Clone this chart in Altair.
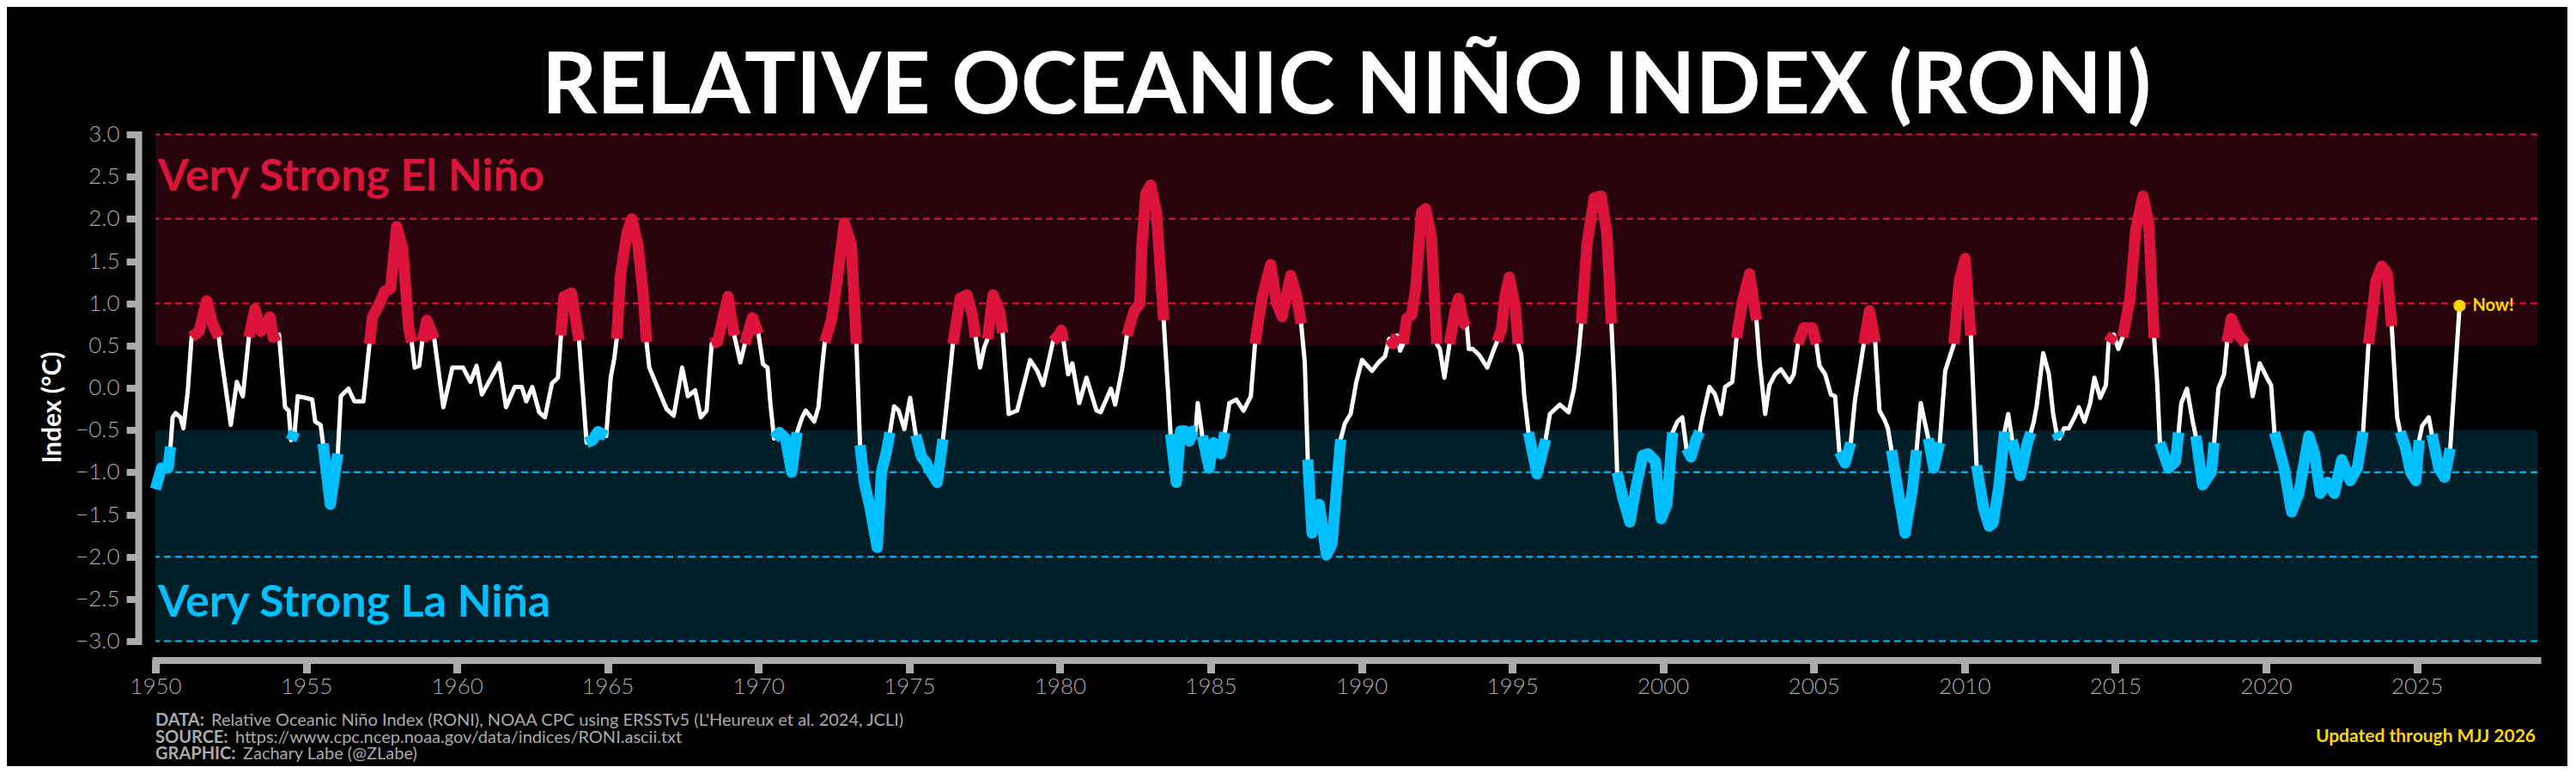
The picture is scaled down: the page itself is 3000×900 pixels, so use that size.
import altair as alt
import pandas as pd

# ---- RONI values (decimal year, index value) ----
D1950 = [(1950.00,-1.20),(1950.20,-0.95),(1950.42,-0.95),(1950.50,-0.70),(1950.57,-0.35),(1950.67,-0.30),
         (1950.83,-0.35),(1950.93,-0.48),(1951.07,-0.05),(1951.20,0.60),(1951.45,0.67),(1951.70,1.03),
         (1951.90,0.75),(1952.10,0.60),(1952.20,0.33),(1952.50,-0.44),(1952.70,0.07),(1952.90,-0.10),
         (1953.10,0.60),(1953.30,0.93),(1953.50,0.67),(1953.80,0.84),(1953.90,0.60),(1954.10,0.63),
         (1954.30,-0.23),(1954.42,-0.27),(1954.50,-0.62),(1954.62,-0.52),(1954.72,-0.10),(1955.00,-0.12),
         (1955.20,-0.14),(1955.30,-0.40),(1955.48,-0.44),(1955.56,-0.66),(1955.80,-1.38),(1956.05,-0.78),
         (1956.15,-0.10),(1956.40,-0.01),(1956.60,-0.16),(1956.90,-0.16),(1957.10,0.52),(1957.20,0.84),
         (1957.40,0.97),(1957.60,1.14),(1957.80,1.18),(1958.00,1.91),(1958.20,1.65),(1958.40,0.71),
         (1958.50,0.54),(1958.60,0.24),(1958.75,0.26),(1958.85,0.55),(1959.00,0.80),(1959.25,0.58),
         (1959.55,-0.23),(1959.85,0.24)]
D1960 = [(1960.20,0.24),(1960.45,0.07),(1960.65,0.26),(1960.83,-0.08),(1961.06,0.07),(1961.40,0.29),
         (1961.63,-0.23),(1961.92,0.01),(1962.15,0.01),(1962.30,-0.16),(1962.50,0.01),(1962.73,-0.29),
         (1962.92,-0.35),(1963.15,0.05),(1963.35,0.12),(1963.45,0.62),(1963.55,1.08),(1963.80,1.12),
         (1964.05,0.56),(1964.30,-0.65),(1964.50,-0.62),(1964.68,-0.52),(1964.95,-0.57),(1965.10,0.12),
         (1965.22,0.35),(1965.30,0.58),(1965.43,1.35),(1965.65,1.85),(1965.80,2.00),(1966.00,1.70),
         (1966.19,1.06),(1966.29,0.54),(1966.38,0.24),(1966.67,-0.01),(1966.95,-0.25),(1967.19,-0.33),
         (1967.47,0.24),(1967.66,-0.10),(1967.90,-0.03),(1968.09,-0.35),(1968.28,-0.27),(1968.45,0.52),
         (1968.65,0.55),(1968.99,1.08),(1969.20,0.62),(1969.40,0.30),(1969.55,0.52),(1969.80,0.83),
         (1970.00,0.64)]
D1970 = [(1970.15,0.28),(1970.30,0.24),(1970.40,-0.20),(1970.52,-0.60),(1970.70,-0.53),(1970.90,-0.60),
         (1971.10,-1.00),(1971.28,-0.53),(1971.45,-0.35),(1971.57,-0.27),(1971.85,-0.40),(1971.99,-0.23),
         (1972.10,0.20),(1972.20,0.54),(1972.42,0.80),(1972.61,1.27),(1972.85,1.95),(1973.08,1.70),
         (1973.25,0.52),(1973.37,-0.68),(1973.51,-1.12),(1973.70,-1.42),(1973.94,-1.89),(1974.08,-1.00),
         (1974.25,-0.75),(1974.36,-0.53),(1974.50,-0.22),(1974.65,-0.27),(1974.84,-0.49),(1975.03,-0.12),
         (1975.22,-0.56),(1975.41,-0.82),(1975.55,-0.88),(1975.64,-0.95),(1975.93,-1.12),(1976.12,-0.61),
         (1976.26,-0.14),(1976.45,0.52),(1976.69,1.06),(1976.92,1.10),(1977.10,0.85),(1977.20,0.60),
         (1977.35,0.24),(1977.49,0.48),(1977.60,0.58),(1977.78,1.10),(1978.00,0.90),(1978.10,0.65),
         (1978.30,-0.31),(1978.58,-0.27),(1978.73,-0.06),(1979.01,0.33),(1979.25,0.20),(1979.44,0.03),
         (1979.58,0.24),(1979.77,0.55),(1979.95,0.62),(1980.05,0.68),(1980.12,0.55)]
D1980 = [(1980.27,0.16),(1980.41,0.29),(1980.64,-0.18),(1980.88,0.12),(1981.21,-0.27),(1981.35,-0.29),
         (1981.69,-0.01),(1981.83,-0.20),(1982.06,0.22),(1982.22,0.62),(1982.45,0.90),(1982.65,1.00),
         (1982.72,1.70),(1982.85,2.30),(1983.01,2.40),(1983.20,2.08),(1983.44,0.80),(1983.58,-0.01),
         (1983.67,-0.55),(1983.86,-1.12),(1984.00,-0.51),(1984.15,-0.51),(1984.29,-0.63),(1984.43,-0.51),
         (1984.50,-0.51),(1984.57,-0.18),(1984.72,-0.57),(1984.95,-0.95),(1985.09,-0.65),(1985.33,-0.78),
         (1985.47,-0.53),(1985.62,-0.18),(1985.85,-0.14),(1986.09,-0.27),(1986.33,-0.10),(1986.47,0.52),
         (1986.70,1.06),(1986.99,1.46),(1987.18,1.01),(1987.37,0.84),(1987.65,1.33),(1987.84,1.10),
         (1988.00,0.76),(1988.12,0.30),(1988.22,-0.85),(1988.36,-1.72),(1988.60,-1.38),(1988.84,-1.98),
         (1989.02,-1.85),(1989.31,-0.61),(1989.45,-0.42),(1989.64,-0.31),(1989.83,0.07)]
D1990 = [(1990.02,0.33),(1990.35,0.20),(1990.59,0.31),(1990.78,0.37),(1990.92,0.58),(1991.05,0.52),
         (1991.18,0.62),(1991.28,0.44),(1991.38,0.52),(1991.50,0.82),(1991.66,0.86),(1991.80,1.18),
         (1991.99,2.08),(1992.13,2.12),(1992.32,1.78),(1992.50,0.52),(1992.60,0.46),(1992.75,0.12),
         (1992.92,0.52),(1993.10,0.90),(1993.22,1.06),(1993.40,0.76),(1993.50,0.72),(1993.56,0.46),
         (1993.69,0.46),(1993.90,0.39),(1994.17,0.24),(1994.38,0.44),(1994.50,0.55),(1994.65,0.70),
         (1994.75,1.06),(1994.90,1.31),(1995.10,0.95),(1995.20,0.52),(1995.30,0.40),(1995.40,-0.10),
         (1995.54,-0.53),(1995.82,-1.02),(1996.11,-0.61),(1996.25,-0.31),(1996.58,-0.20),(1996.87,-0.29),
         (1997.05,-0.01),(1997.20,0.41),(1997.29,0.76),(1997.48,1.70),(1997.72,2.25),(1997.95,2.27),
         (1998.14,1.82),(1998.29,0.76),(1998.38,0.07),(1998.48,-1.00),(1998.66,-1.29),(1998.90,-1.59),
         (1999.09,-1.21),(1999.33,-0.80),(1999.50,-0.78),(1999.75,-0.87),(1999.94,-1.55)]
D2000 = [(2000.13,-1.38),(2000.32,-0.53),(2000.48,-0.40),(2000.64,-0.35),(2000.78,-0.72),(2000.93,-0.82),
         (2001.10,-0.61),(2001.22,-0.52),(2001.31,-0.35),(2001.54,0.01),(2001.73,-0.08),(2001.92,-0.31),
         (2002.06,0.01),(2002.30,0.07),(2002.44,0.59),(2002.63,1.01),(2002.87,1.35),(2003.10,0.80),
         (2003.20,0.33),(2003.39,-0.31),(2003.53,0.03),(2003.72,0.16),(2003.91,0.22),(2004.20,0.07),
         (2004.34,0.16),(2004.48,0.52),(2004.67,0.71),(2004.95,0.71),(2005.09,0.52),(2005.19,0.26),
         (2005.38,0.16),(2005.57,-0.08),(2005.71,-0.10),(2005.85,-0.76),(2006.04,-0.89),(2006.23,-0.65),
         (2006.37,-0.14),(2006.66,0.52),(2006.85,0.91),(2007.04,0.54),(2007.18,-0.27),(2007.35,-0.38),
         (2007.46,-0.48),(2007.58,-0.74),(2007.79,-1.21),(2008.03,-1.72),(2008.27,-1.21),(2008.41,-0.74),
         (2008.55,-0.18),(2008.68,-0.40),(2008.80,-0.60),(2008.98,-0.95),(2009.18,-0.65),(2009.36,0.20),
         (2009.55,0.41),(2009.65,0.52),(2009.83,1.27),(2010.02,1.53),(2010.21,0.62),(2010.40,-0.92)]
D2010 = [(2010.63,-1.42),(2010.82,-1.64),(2010.95,-1.60),(2011.14,-1.17),(2011.33,-0.52),(2011.45,-0.31),
         (2011.58,-0.62),(2011.85,-1.04),(2012.09,-0.65),(2012.20,-0.53),(2012.30,-0.40),(2012.40,-0.20),
         (2012.61,0.41),(2012.80,0.16),(2012.94,-0.31),(2013.05,-0.53),(2013.15,-0.60),(2013.30,-0.48),
         (2013.46,-0.48),(2013.65,-0.35),(2013.79,-0.23),(2013.98,-0.40),(2014.17,-0.18),(2014.31,0.12),
         (2014.50,-0.12),(2014.69,0.03),(2014.78,0.54),(2014.95,0.63),(2015.10,0.46),(2015.25,0.60),
         (2015.49,1.06),(2015.68,1.87),(2015.92,2.27),(2016.11,1.95),(2016.29,0.59),(2016.39,0.07),
         (2016.48,-0.65),(2016.77,-0.95),(2017.00,-0.87),(2017.10,-0.53),(2017.19,-0.18),(2017.38,-0.01),
         (2017.57,-0.40),(2017.67,-0.57),(2017.90,-1.15),(2018.19,-1.00),(2018.28,-0.65),(2018.42,-0.01),
         (2018.61,0.16),(2018.71,0.54),(2018.85,0.82),(2019.08,0.63),(2019.32,0.52),(2019.56,-0.10),
         (2019.79,0.29)]
D2020 = [(2020.03,0.12),(2020.17,0.03),(2020.28,-0.53),(2020.43,-0.72),(2020.60,-0.95),(2020.85,-1.47),
         (2021.09,-1.25),(2021.42,-0.57),(2021.61,-0.78),(2021.80,-1.25),(2022.04,-1.12),(2022.27,-1.25),
         (2022.51,-0.85),(2022.79,-1.10),(2023.03,-0.95),(2023.22,-0.52),(2023.40,0.52),(2023.65,1.27),
         (2023.84,1.44),(2024.02,1.35),(2024.17,0.73),(2024.35,-0.35),(2024.45,-0.52),(2024.62,-0.70),
         (2024.80,-1.00),(2024.97,-1.10),(2025.08,-0.62),(2025.18,-0.45),(2025.40,-0.35),(2025.50,-0.55),
         (2025.73,-0.95),(2025.92,-1.06),(2026.11,-0.72),(2026.42,0.97)]

SERIES = D1950 + D1960 + D1970 + D1980 + D1990 + D2000 + D2010 + D2020

EL_NINO = 0.5
LA_NINA = -0.5
RED_LEVELS = [3.0, 2.0, 1.0]
BLUE_LEVELS = [-1.0, -2.0, -3.0]
X_TICKS = list(range(1950, 2026, 5))
Y_TICKS = [-3.0, -2.5, -2.0, -1.5, -1.0, -0.5, 0.0, 0.5, 1.0, 1.5, 2.0, 2.5, 3.0]
X_RANGE = [1950, 2029]
Y_RANGE = [-3, 3]

RED = "#DC143C"
BLUE = "#00BFFF"
GOLD = "#FFD700"
GRAY = "#ABABAB"
RED_BG = "#28030c"
BLUE_BG = "#001f29"
FONT = "Lato"

W, H = 2774, 590

df = pd.DataFrame(SERIES, columns=["t", "v"])
hot = df["v"] >= EL_NINO
cold = df["v"] <= LA_NINA
df["seg_hot"] = (hot != hot.shift()).cumsum()
df["seg_cold"] = (cold != cold.shift()).cumsum()
red_df = df[hot]
blue_df = df[cold]
last_df = df.tail(1)

bands = pd.DataFrame({"t": [X_RANGE[0]] * 2, "t2": [X_RANGE[1]] * 2,
                      "v": [EL_NINO, Y_RANGE[0]], "v2": [Y_RANGE[1], LA_NINA],
                      "fill": [RED_BG, BLUE_BG]})
levels = pd.DataFrame({"v": RED_LEVELS + BLUE_LEVELS,
                       "c": [RED] * len(RED_LEVELS) + [BLUE] * len(BLUE_LEVELS)})

xs = alt.Scale(domain=X_RANGE, nice=False, zero=False)
ys = alt.Scale(domain=Y_RANGE, nice=False, zero=False)
x_axis = alt.Axis(values=X_TICKS, format="d", title=None, grid=False, offset=22,
                  domainColor=GRAY, domainWidth=8, domainCap="square",
                  tickColor=GRAY, tickWidth=9, tickSize=15,
                  labelColor=GRAY, labelFont=FONT, labelFontSize=26, labelFontWeight=300,
                  labelPadding=3, labelFlush=False, labelOverlap=False)
y_axis = alt.Axis(values=Y_TICKS, format=".1f", title=None, grid=False, offset=20,
                  domainColor=GRAY, domainWidth=8, domainCap="square",
                  tickColor=GRAY, tickWidth=8, tickSize=14,
                  labelColor=GRAY, labelFont=FONT, labelFontSize=26, labelFontWeight=300,
                  labelPadding=8, labelFlush=False, labelOverlap=False)


def X(f="t"):
    return alt.X(f"{f}:Q", scale=xs, axis=x_axis)


def Y(f="v"):
    return alt.Y(f"{f}:Q", scale=ys, axis=y_axis)


band_layer = alt.Chart(bands).mark_rect().encode(
    x=X(), x2="t2:Q", y=Y(), y2="v2:Q", color=alt.Color("fill:N", scale=None))

rule_layer = alt.Chart(levels).mark_rule(strokeDash=[8, 5], strokeWidth=2).encode(
    y=Y(), color=alt.Color("c:N", scale=None))

white_line = alt.Chart(df).mark_line(color="white", strokeWidth=5, strokeJoin="round").encode(
    x=X(), y=Y())

red_line = alt.Chart(red_df).mark_line(color=RED, strokeWidth=13, strokeJoin="round", strokeCap="butt").encode(
    x=X(), y=Y(), detail="seg_hot:N")

blue_line = alt.Chart(blue_df).mark_line(color=BLUE, strokeWidth=13, strokeJoin="round", strokeCap="butt").encode(
    x=X(), y=Y(), detail="seg_cold:N")

now_dot = alt.Chart(last_df).mark_circle(color=GOLD, size=200, opacity=1).encode(x=X(), y=Y())
now_txt = alt.Chart(last_df).mark_text(text="Now!", align="left", baseline="middle", dx=15,
                                       font=FONT, fontWeight="bold", fontSize=20, color=GOLD).encode(x=X(), y=Y())

el_lbl = alt.Chart(pd.DataFrame({"t": [X_RANGE[0]], "v": [2.33]})).mark_text(
    text="Very Strong El Niño", align="left", baseline="alphabetic", dx=3,
    font=FONT, fontWeight="bold", fontSize=52, color=RED).encode(x=X(), y=Y())
la_lbl = alt.Chart(pd.DataFrame({"t": [X_RANGE[0]], "v": [-2.71]})).mark_text(
    text="Very Strong La Niña", align="left", baseline="alphabetic", dx=3,
    font=FONT, fontWeight="bold", fontSize=52, color=BLUE).encode(x=X(), y=Y())

ONE = alt.Data(values=[{}])


def txt(s, x, y, **kw):
    return alt.Chart(ONE).mark_text(text=s, font=FONT, **kw).encode(x=alt.value(x), y=alt.value(y))


title = txt("RELATIVE OCEANIC NIÑO INDEX (RONI)", W / 2, -24.5, align="center", baseline="alphabetic",
            fontSize=100, fontWeight="bold", color="white")
ylab = txt("Index (°C)", -119, 318, align="center", baseline="middle", angle=270,
           fontSize=30, fontWeight="bold", color="white")
f1a = txt("DATA:", 0, 682.5, align="left", baseline="middle", fontSize=20, fontWeight="bold", color=GRAY)
f1b = txt("Relative Oceanic Niño Index (RONI), NOAA CPC using ERSSTv5 (L'Heureux et al. 2024, JCLI)",
          65, 682.5, align="left", baseline="middle", fontSize=20, fontWeight="normal", color=GRAY)
f2a = txt("SOURCE:", 0, 702, align="left", baseline="middle", fontSize=20, fontWeight="bold", color=GRAY)
f2b = txt("https://www.cpc.ncep.noaa.gov/data/indices/RONI.ascii.txt",
          93, 702, align="left", baseline="middle", fontSize=20, fontWeight="normal", color=GRAY)
f3a = txt("GRAPHIC:", 0, 721.5, align="left", baseline="middle", fontSize=20, fontWeight="bold", color=GRAY)
f3b = txt("Zachary Labe (@ZLabe)", 102, 721.5, align="left", baseline="middle", fontSize=20,
          fontWeight="normal", color=GRAY)
upd = txt("Updated through MJJ 2026", 2772, 701.5, align="right", baseline="middle", fontSize=21,
          fontWeight="bold", color=GOLD)

chart = alt.layer(
    band_layer, rule_layer, white_line, red_line, blue_line, now_dot, now_txt,
    el_lbl, la_lbl, title, ylab, f1a, f1b, f2a, f2b, f3a, f3b, upd
).properties(
    width=W, height=H,
    autosize=alt.AutoSizeParams(type="none"),
    padding={"left": 173, "top": 148.5, "right": 35, "bottom": 145},
    background="black",
).configure_view(strokeWidth=0)

chart.save("out.html", embed_options={"renderer": "svg", "actions": False})
